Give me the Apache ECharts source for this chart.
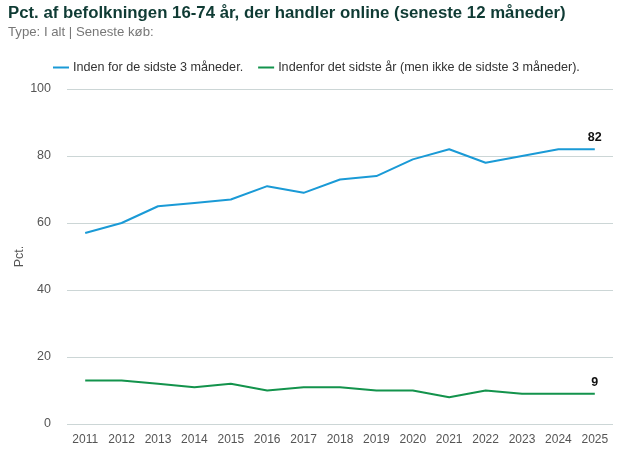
<!DOCTYPE html>
<html>
<head>
<meta charset="utf-8">
<script src="https://cdn.jsdelivr.net/npm/echarts@6/dist/echarts.min.js"></script>
<style>
  html, body { margin: 0; padding: 0; background: #fff; }
  #chart { width: 625px; height: 456px; }
</style>
</head>
<body>
<div id="chart"></div>
<script>
var years = ['2011', '2012', '2013', '2014', '2015', '2016', '2017', '2018', '2019', '2020', '2021', '2022', '2023', '2024', '2025'];
var recent = [57, 60, 65, 66, 67, 71, 69, 73, 74, 79, 82, 78, 80, 82, 82];
var lastYear = [13, 13, 12, 11, 12, 10, 11, 11, 10, 10, 8, 10, 9, 9, 9];
var yTicks = [0, 20, 40, 60, 80, 100];

var font = 'Liberation Sans, Arial, sans-serif';

// kun label på sidste punkt
function endLabel(arr) {
    return arr.map(function(v, i) {
        if (i === arr.length - 1) {
            return { value: v, label: { show: true } };
        }
        return v;
    });
}

var chart = echarts.init(document.getElementById('chart'));
chart.setOption({
    textStyle: { fontFamily: font },
    title: {
        text: 'Pct. af befolkningen 16-74 år, der handler online (seneste 12 måneder)',
        subtext: 'Type: I alt | Seneste køb:',
        left: 3,
        top: 0,
        itemGap: 4,
        textStyle: { fontSize: 16.8, fontWeight: 'bold', color: '#0f3b34', fontFamily: font },
        subtextStyle: { fontSize: 13.2, color: '#777', fontFamily: font }
    },
    legend: {
        top: 56,
        left: 48,
        itemWidth: 16,
        itemHeight: 2,
        itemGap: 15,
        icon: 'rect',
        textStyle: { fontSize: 12.6, color: '#333', fontFamily: font, padding: [0, 0, 0, -1] },
        data: ['Inden for de sidste 3 måneder.', 'Indenfor det sidste år (men ikke de sidste 3 måneder).']
    },
    grid: { left: 67, right: 12, top: 89, bottom: 32 },
    xAxis: {
        type: 'category',
        data: years,
        boundaryGap: true,
        axisLine: { show: false },
        axisTick: { show: false },
        axisLabel: { fontSize: 12, color: '#555', margin: 10 }
    },
    yAxis: {
        type: 'value',
        min: yTicks[0],
        max: yTicks[yTicks.length - 1],
        interval: 20,
        name: 'Pct.',
        nameLocation: 'middle',
        nameGap: 41,
        nameMoveOverlap: false,
        nameTextStyle: { fontSize: 12.5, color: '#555' },
        axisLabel: { fontSize: 12.5, color: '#555', margin: 16 },
        splitLine: { lineStyle: { color: '#ccd6d6', width: 1 } }
    },
    series: [{
        name: 'Inden for de sidste 3 måneder.',
        type: 'line',
        data: endLabel(recent),
        color: '#1a9ad6',
        symbol: 'circle',
        symbolSize: 0.1,
        showSymbol: true,
        lineStyle: { width: 2 },
        label: { position: 'top', fontWeight: 'bold', fontSize: 12.5, color: '#111', distance: 5 }
    }, {
        name: 'Indenfor det sidste år (men ikke de sidste 3 måneder).',
        type: 'line',
        data: endLabel(lastYear),
        color: '#13934c',
        symbol: 'circle',
        symbolSize: 0.1,
        showSymbol: true,
        lineStyle: { width: 2 },
        label: { position: 'top', fontWeight: 'bold', fontSize: 12.5, color: '#111', distance: 5 }
    }]
});
</script>
</body>
</html>
